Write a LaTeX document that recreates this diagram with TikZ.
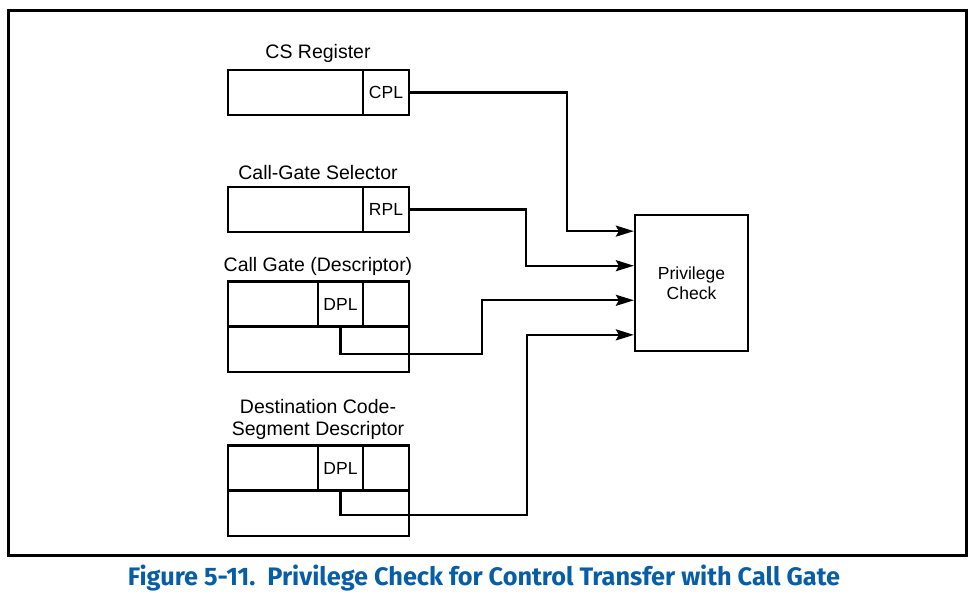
\documentclass[tikz,border=0pt]{standalone}
\usepackage{fontspec}
\setmainfont{Liberation Sans}
\newfontfamily\capfont{Fira Sans}
\usetikzlibrary{arrows.meta, calc}
\definecolor{capblue}{RGB}{8,94,166}

\begin{document}
\begin{tikzpicture}[x=1pt, y=-1pt,
    cell/.style={rectangle, draw, line width=2.3pt, inner sep=0pt, minimum height=45pt, font=\fontsize{17.5}{20}\selectfont},
    lbl/.style={font=\fontsize{19.5}{22}\selectfont, align=center},
    wire/.style={line width=2.3pt, -{Stealth[length=18pt, width=11pt, inset=3pt]}}]
    \useasboundingbox (0,0) rectangle (976,596);
    \draw[line width=3pt] (8,11) rectangle (966,555);

    % CS register
    \node[lbl] (cslbl) at (318,53) {CS Register};
    \node[cell, minimum width=135pt] (cs) at (295.5,92.5) {};
    \node[cell, minimum width=46pt] (cpl) at (386,92.5) {CPL};

    % call-gate selector
    \node[lbl] (sellbl) at (318,173) {Call-Gate Selector};
    \node[cell, minimum width=135pt] (sel) at (295.5,209.5) {};
    \node[cell, minimum width=46pt] (rpl) at (386,209.5) {RPL};

    % call gate descriptor
    \node[lbl] (cglbl) at (318,266) {Call Gate (Descriptor)};
    \node[cell, minimum width=90pt] (cga) at (273,304) {};
    \node[cell, minimum width=45pt] (dpla) at (340.5,304) {DPL};
    \node[cell, minimum width=46pt] (cgb) at (386,304) {};
    \node[cell, minimum width=181pt] (cgc) at (318.5,349.5) {};

    % destination code-segment descriptor
    \node[lbl] (dstlbl) at (318,419) {Destination Code-\\Segment Descriptor};
    \node[cell, minimum width=90pt] (dsa) at (273,468) {};
    \node[cell, minimum width=45pt] (dplb) at (340.5,468) {DPL};
    \node[cell, minimum width=46pt] (dsb) at (386,468) {};
    \node[cell, minimum width=181pt] (dsc) at (318.5,513.5) {};

    % privilege check
    \node[cell, minimum width=113pt, minimum height=136pt, align=center] (check) at (691.5,283) {Privilege\\Check};
    \foreach \i/\f in {1/0.125, 2/0.375, 3/0.625, 4/0.875}
        \coordinate (in\i) at ($(check.north west)!\f!(check.south west)$);

    \draw[wire] (cpl.east) -- ++(157,0) |- (in1);
    \draw[wire] (rpl.east) -- ++(116,0) |- (in2);
    \draw[wire] (dpla.south) -- ++(0,26) -- ++(141.5,0) |- (in3);
    \draw[wire] (dplb.south) -- ++(0,23) -- ++(186.5,0) |- (in4);

    \node[font=\capfont\bfseries\fontsize{25.3}{28}\selectfont, text=capblue] (caption) at (484,578) {Figure 5-11.\ \ Privilege Check for Control Transfer with Call Gate};
\end{tikzpicture}
\end{document}
